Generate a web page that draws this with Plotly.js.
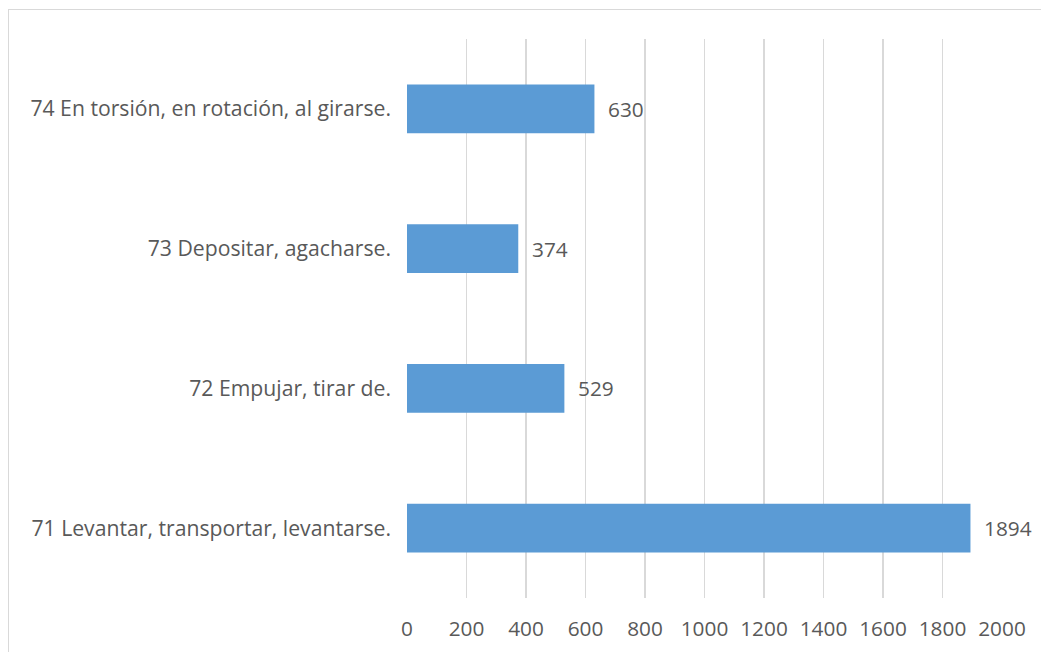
<!DOCTYPE html>
<html>
<head>
<meta charset="utf-8">
<script src="https://cdn.plot.ly/plotly-3.0.1.min.js"></script>
<style>
  html, body { margin: 0; padding: 0; background: #fff; }
  #chart { width: 1041px; height: 652px; }
  #frame { position: absolute; left: 8px; top: 9px; width: 1100px; height: 700px;
           border: 1px solid #d9d9d9; pointer-events: none; box-sizing: border-box; }
</style>
</head>
<body>
<div id="chart"></div>
<div id="frame"></div>
<script>
const categories = [
  "71 Levantar, transportar, levantarse.",
  "72 Empujar, tirar de.",
  "73 Depositar, agacharse.",
  "74 En torsión, en rotación, al girarse."
];
const values = [1894, 529, 374, 630];
const tickVals = [0, 200, 400, 600, 800, 1000, 1200, 1400, 1600, 1800, 2000];

const fontFamily = "Open Sans, Noto Sans, sans-serif";
const textColor = "#595959";

const trace = {
  type: "bar",
  orientation: "h",
  x: values,
  y: categories,
  marker: { color: "#5B9BD5", line: { width: 0 } },
  hoverinfo: "none"
};

const annotations = values.map((v, i) => ({
  x: v, y: categories[i], xref: "x", yref: "y",
  text: String(v), showarrow: false, xanchor: "left", xshift: 12,
  font: { family: fontFamily, size: 20.8, color: textColor }
}));

const layout = {
  width: 1041, height: 652,
  margin: { l: 406.5, r: 39, t: 39, b: 54 },
  paper_bgcolor: "#fff", plot_bgcolor: "#fff",
  showlegend: false,
  bargap: 0.65,
  font: { family: fontFamily, size: 20.8, color: textColor },
  xaxis: {
    range: [0, 2000], tickvals: tickVals, ticktext: tickVals.map(String),
    tickfont: { size: 20.8 },
    showgrid: true, gridcolor: "#d9d9d9", gridwidth: 1.6,
    zeroline: false, showline: false, ticks: "", ticklabelstandoff: 16,
    fixedrange: true
  },
  yaxis: {
    type: "category", categoryorder: "array", categoryarray: categories,
    tickfont: { size: 21.2 },
    showgrid: false, zeroline: false, showline: false, ticks: "",
    ticklabelstandoff: 15, fixedrange: true
  },
  annotations: annotations
};

Plotly.newPlot("chart", [trace], layout, { displayModeBar: false, staticPlot: true });
</script>
</body>
</html>
